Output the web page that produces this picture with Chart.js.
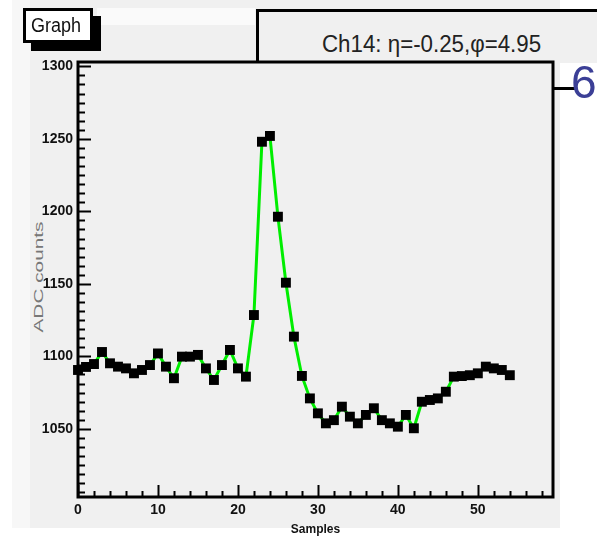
<!DOCTYPE html>
<html>
<head>
<meta charset="utf-8">
<script src="https://cdn.jsdelivr.net/npm/chart.js@4/dist/chart.umd.min.js"></script>
<style>
  html, body { margin: 0; padding: 0; background: #fff; }
  #page { position: relative; width: 597px; height: 537px; overflow: hidden; font-family: "Liberation Sans", Arial, sans-serif; }
  #strip { position: absolute; left: 12px; top: 0; width: 18px; height: 528px; background: #f7f7f7; }
  #panel { position: absolute; left: 30px; top: 0; width: 530px; height: 528px; background: #f0f0f0; }
  #band { position: absolute; left: 97px; top: 8px; width: 158px; height: 17px; background: #fafafa; }
  #chart { position: absolute; left: 0; top: 0; }
  #graph-box { position: absolute; left: 23px; top: 8px; width: 64px; height: 29px; border: 3px solid #000; background: #fff;
    box-shadow: 8px 8px 0 #000; font-size: 20px; line-height: 29px; color: #111; overflow: hidden; }
  #graph-box span { position: absolute; left: 5px; top: 0; transform: scaleX(0.9); transform-origin: left; }
  #title-box { position: absolute; left: 256px; top: 9px; width: 400px; height: 51px; border: 3px solid #000; border-bottom: none; background: #f0f0f0; }
  #title-box span { position: absolute; left: 63px; top: 19px; font-size: 23px; line-height: 26px; color: #222; white-space: nowrap; transform: scaleX(0.97); transform-origin: left; }
  #ytitle { position: absolute; left: 38px; top: 277px; font-size: 13px; color: #777; white-space: nowrap;
    transform: translate(-50%, -50%) rotate(-90deg) scaleX(1.6); }
  #stub { position: absolute; left: 553px; top: 87px; width: 22px; height: 3px; background: #000; }
  #six { position: absolute; left: 571px; top: 55px; font-size: 46px; color: #3b3f96; }
</style>
</head>
<body>
<div id="page">
  <div id="strip"></div>
  <div id="panel"></div>
  <div id="band"></div>
  <div id="title-box"><span>Ch14: η=-0.25,φ=4.95</span></div>
  <div id="ytitle">ADC counts</div>
  <canvas id="chart" width="597" height="537"></canvas>
  <div id="graph-box"><span>Graph</span></div>
  <div id="stub"></div>
  <div id="six">6</div>
</div>
<script>
(function () {
  // sample index along the x axis
  const samples = [0, 1, 2, 3, 4, 5, 6, 7, 8, 9, 10, 11, 12, 13, 14, 15, 16, 17, 18, 19,
    20, 21, 22, 23, 24, 25, 26, 27, 28, 29, 30, 31, 32, 33, 34, 35, 36, 37, 38, 39,
    40, 41, 42, 43, 44, 45, 46, 47, 48, 49, 50, 51, 52, 53, 54];
  // ADC counts
  const adcCounts = [1090.6, 1092.7, 1094.7, 1103, 1095.2, 1092.9, 1091.7, 1088.3, 1090.6, 1094,
    1102, 1092.9, 1084.9, 1099.8, 1099.8, 1101, 1091.7, 1083.7, 1094, 1104.4,
    1091.7, 1086, 1128.5, 1248, 1252, 1196.3, 1150.8, 1113.6, 1086.5, 1071,
    1060.7, 1053.8, 1056, 1065.3, 1058.4, 1053.8, 1059.6, 1064.2, 1056, 1053.8,
    1051.5, 1059.6, 1050.4, 1068.7, 1069.9, 1071, 1075.6, 1086, 1086.4, 1087,
    1088.3, 1092.9, 1091.7, 1090.6, 1087];
  const xTicks = [0, 10, 20, 30, 40, 50];
  const yTicks = [1050, 1100, 1150, 1200, 1250, 1300];
  const xRange = [0, 59.4];
  const yRange = [1003, 1303];

  const family = '"Liberation Sans", Arial, sans-serif';
  const labelFont = { family, size: 14, weight: 'bold' };

  // ROOT style frame with ticks pointing inward
  const rootFrame = {
    id: 'rootFrame',
    afterDatasetsDraw(chart) {
      const { ctx, chartArea: a, scales: { x, y } } = chart;
      ctx.save();
      ctx.strokeStyle = '#000';
      ctx.lineWidth = 2;
      ctx.beginPath();
      for (let v = 1000; v <= yRange[1]; v += 6.25) {
        if (v < yRange[0]) continue;
        const py = Math.round(y.getPixelForValue(v)) + 0.5;
        const len = v % 50 === 0 ? 13 : 7;
        ctx.moveTo(a.left, py); ctx.lineTo(a.left + len, py);
      }
      for (let v = 0; v <= xRange[1]; v += 2) {
        const px = Math.round(x.getPixelForValue(v)) + 0.5;
        const len = v % 10 === 0 ? 12 : 6;
        ctx.moveTo(px, a.bottom); ctx.lineTo(px, a.bottom - len);
      }
      ctx.stroke();
      ctx.lineWidth = 3;
      ctx.strokeRect(a.left, a.top, a.right - a.left, a.bottom - a.top);
      ctx.restore();
    }
  };

  const toTicks = list => axis => { axis.ticks = list.map(v => ({ value: v })); };

  new Chart(document.getElementById('chart'), {
    type: 'line',
    data: {
      datasets: [{
        data: samples.map((s, i) => ({ x: s, y: adcCounts[i] })),
        borderColor: '#00ee00',
        borderWidth: 3,
        tension: 0,
        pointStyle: 'rect',
        pointRadius: 7,
        pointBackgroundColor: '#000',
        pointBorderColor: '#000',
        pointBorderWidth: 0,
        clip: false
      }]
    },
    options: {
      responsive: false,
      animation: false,
      devicePixelRatio: 1,
      layout: { padding: { top: 62, right: 44, left: 0, bottom: 0 } },
      plugins: { legend: { display: false }, tooltip: { enabled: false } },
      scales: {
        x: {
          type: 'linear', min: xRange[0], max: xRange[1],
          afterFit: s => { s.height = 40; },
          afterBuildTicks: toTicks(xTicks),
          grid: { display: false, drawTicks: false }, border: { display: false },
          ticks: { font: labelFont, color: '#111', padding: 5, maxRotation: 0, callback: v => v },
          title: { display: true, text: 'Samples', color: '#111', align: 'center', font: { family, size: 12, weight: 'bold' }, padding: { top: 0, bottom: 0 } }
        },
        y: {
          type: 'linear', min: yRange[0], max: yRange[1],
          afterFit: s => { s.width = 78; },
          afterBuildTicks: toTicks(yTicks),
          grid: { display: false, drawTicks: false }, border: { display: false },
          ticks: { font: labelFont, color: '#111', padding: 5, callback: v => v }
        }
      }
    },
    plugins: [rootFrame]
  });
})();
</script>
</body>
</html>
